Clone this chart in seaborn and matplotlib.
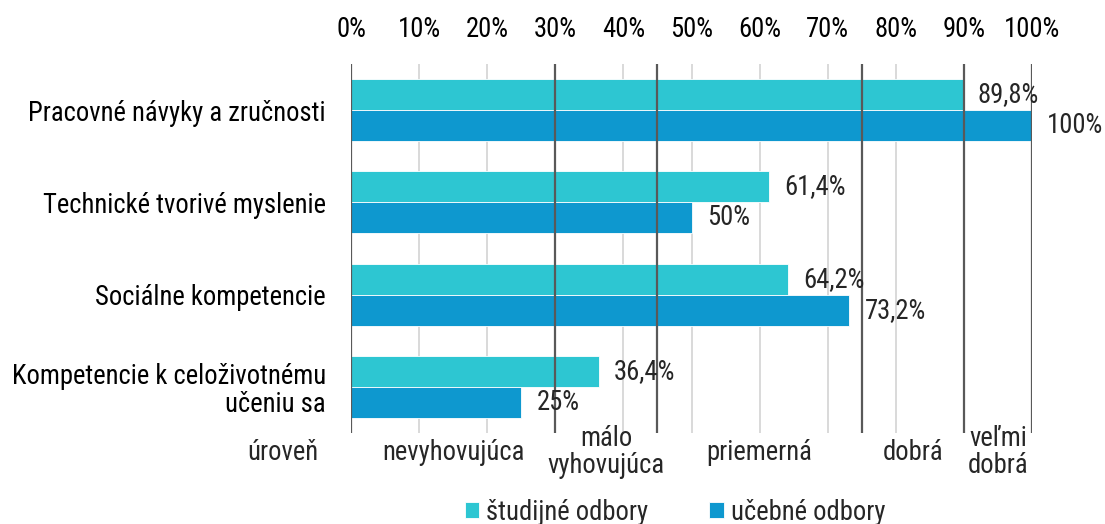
import matplotlib
matplotlib.use("Agg")
import matplotlib.pyplot as plt
import pandas as pd
import seaborn as sns

# --- data ---
categories = ["Pracovné návyky a zručnosti", "Technické tvorivé myslenie",
              "Sociálne kompetencie", "Kompetencie k celoživotnému\nučeniu sa"]
series = ["študijné odbory", "učebné odbory"]
studijne = [89.8, 61.4, 64.2, 36.4]
ucebne = [100, 50, 73.2, 25]
level_bounds = [0, 30, 45, 75, 90, 100]
level_names = ["nevyhovujúca", "málo\nvyhovujúca", "priemerná", "dobrá", "veľmi\ndobrá"]
x_ticks = list(range(0, 101, 10))
colors = ["#2dc6d2", "#0e98cf"]

df = pd.DataFrame({
    "kategoria": categories * 2,
    "skupina": [series[0]] * len(categories) + [series[1]] * len(categories),
    "hodnota": studijne + ucebne,
})

sns.set_theme(style="white")
plt.rcParams["font.family"] = ["Roboto Condensed", "Roboto", "DejaVu Sans"]
FS = 19.2

fig = plt.figure(figsize=(11.05, 5.24), dpi=100)
ax = fig.add_axes([351 / 1105, 1 - 433 / 524, 681 / 1105, 369 / 524])

sns.barplot(data=df, y="kategoria", x="hodnota", hue="skupina", orient="h",
            palette=colors, width=0.674, gap=0, saturation=1,
            edgecolor="white", linewidth=0.6, ax=ax)

ax.set_xlim(0, 100)
ax.set_ylim(3.5, -0.5)

# light grid + dark level boundaries
for t in x_ticks:
    if t not in level_bounds:
        ax.axvline(t, color="#d9d9d9", lw=1.4, zorder=0.5)
for b in level_bounds:
    ax.axvline(b, color="#595959", lw=1.6, zorder=3)

ax.xaxis.tick_top()
ax.set_xticks(x_ticks)
ax.set_xticklabels([f"{t}%" for t in x_ticks])
ax.tick_params(axis="x", length=0, pad=15, labelsize=FS, colors="black")
ax.tick_params(axis="y", length=0, pad=18, labelsize=FS, colors="black")
for lbl in ax.get_yticklabels():
    lbl.set_linespacing(1.05)
ax.set_xlabel("")
ax.set_ylabel("")
for s in ax.spines.values():
    s.set_visible(False)

def fmt(v):
    return f"{v:g}".replace(".", ",") + "%"

for cont, vals in zip(ax.containers, [studijne, ucebne]):
    ax.bar_label(cont, labels=[fmt(v) for v in vals], padding=11, fontsize=FS)

# level names under the plot
for lo, hi, name in zip(level_bounds[:-1], level_bounds[1:], level_names):
    ax.annotate(name, xy=((lo + hi) / 2, 0), xycoords=("data", "axes fraction"),
                xytext=(0, -19), textcoords="offset pixels",
                ha="center", va="center", fontsize=FS, linespacing=1.0)
ax.annotate("úroveň", xy=(0, 0), xycoords=("data", "axes fraction"),
            xytext=(-68, -19), textcoords="offset pixels",
            ha="center", va="center", fontsize=FS)

handles, labels = ax.get_legend_handles_labels()
ax.get_legend().remove()
fig.legend(handles, labels, loc="center", bbox_to_anchor=(675 / 1105, 1 - 512 / 524),
           ncol=2, frameon=False, fontsize=FS, handlelength=0.55, handleheight=0.55,
           handletextpad=0.25, columnspacing=2.3)

fig.savefig("out.png", dpi=100)
